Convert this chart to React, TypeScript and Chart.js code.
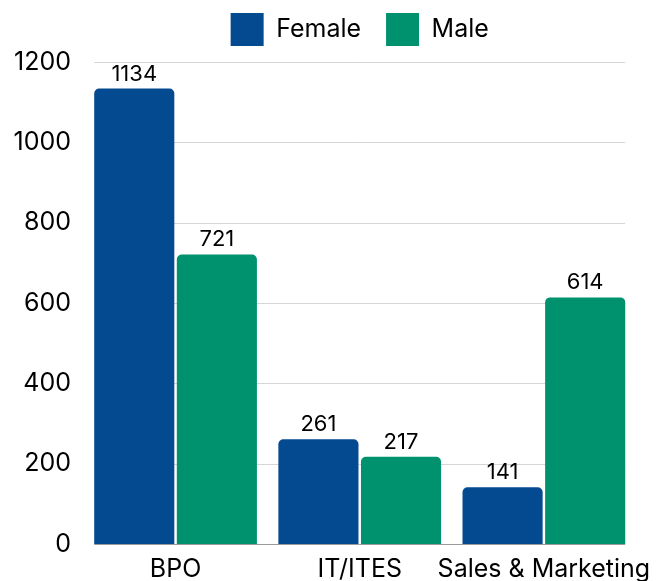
import React, { useEffect, useRef } from 'react';
import { Chart, registerables } from 'chart.js';

Chart.register(...registerables);

const categories = ['BPO', 'IT/ITES', 'Sales & Marketing'];
const femaleValues = [1134, 261, 141];
const maleValues = [721, 217, 614];
const yTicks = [0, 200, 400, 600, 800, 1000, 1200];

const FONT = 'Inter, "Liberation Sans", Arial, sans-serif';
const FEMALE_COLOR = '#044A91';
const MALE_COLOR = '#00926F';

export default function App() {
  const ref = useRef<HTMLCanvasElement>(null);

  useEffect(() => {
    if (!ref.current) return;

    const gridPlugin = {
      id: 'customGrid',
      beforeDatasetsDraw(chart: any) {
        const y = chart.scales.y;
        const first = chart.getDatasetMeta(0).data[0];
        const lastMeta = chart.getDatasetMeta(chart.data.datasets.length - 1);
        const last = lastMeta.data[lastMeta.data.length - 1];
        const left = first.x - first.width / 2;
        const right = last.x + last.width / 2;
        const ctx = chart.ctx;
        ctx.save();
        ctx.lineWidth = 1;
        yTicks.forEach((v) => {
          const py = Math.round(y.getPixelForValue(v)) + 0.5;
          ctx.strokeStyle = v === 0 ? '#9a9a9a' : '#d6d6d6';
          ctx.beginPath();
          ctx.moveTo(left, py);
          ctx.lineTo(right, py);
          ctx.stroke();
        });
        ctx.restore();
      },
    };

    const labelPlugin = {
      id: 'valueLabels',
      afterDatasetsDraw(chart: any) {
        const ctx = chart.ctx;
        ctx.save();
        ctx.font = `22px ${FONT}`;
        ctx.fillStyle = '#000';
        ctx.textAlign = 'center';
        ctx.textBaseline = 'alphabetic';
        chart.data.datasets.forEach((ds: any, di: number) => {
          const meta = chart.getDatasetMeta(di);
          meta.data.forEach((bar: any, i: number) => {
            ctx.fillText(String(ds.data[i]), bar.x, bar.y - 8);
          });
        });
        ctx.restore();
      },
    };

    const chart = new Chart(ref.current, {
      type: 'bar',
      data: {
        labels: categories,
        datasets: [
          {
            label: 'Female',
            data: femaleValues,
            backgroundColor: FEMALE_COLOR,
            borderRadius: 5,
            categoryPercentage: 0.897,
            barPercentage: 0.97,
          },
          {
            label: 'Male',
            data: maleValues,
            backgroundColor: MALE_COLOR,
            borderRadius: 5,
            categoryPercentage: 0.897,
            barPercentage: 0.97,
          },
        ],
      },
      options: {
        animation: false,
        responsive: true,
        maintainAspectRatio: false,
        layout: { padding: { left: 1, right: 29, top: -12, bottom: -13 } },
        plugins: {
          legend: {
            position: 'top',
            fullSize: false,
            labels: {
              boxWidth: 33,
              boxHeight: 33,
              padding: 25,
              color: '#000',
              font: { family: FONT, size: 25 },
            },
          },
          tooltip: { enabled: false },
        },
        scales: {
          x: {
            grid: { display: false, drawTicks: false },
            border: { display: false },
            ticks: { color: '#000', font: { family: FONT, size: 25 }, padding: 10, maxRotation: 0, autoSkip: false },
          },
          y: {
            min: 0,
            max: 1215,
            grid: { display: false, drawTicks: false },
            border: { display: false },
            afterBuildTicks: (scale: any) => {
              scale.ticks = yTicks.map((v) => ({ value: v }));
            },
            ticks: {
              color: '#000',
              font: { family: FONT, size: 25 },
              padding: 12.5,
              callback: (v: any) => String(v),
            },
          },
        },
      },
      plugins: [gridPlugin, labelPlugin],
    });

    return () => chart.destroy();
  }, []);

  return (
    <div style={{ position: 'absolute', left: 0, top: 0, width: 665, height: 581 }}>
      <canvas ref={ref} />
    </div>
  );
}
